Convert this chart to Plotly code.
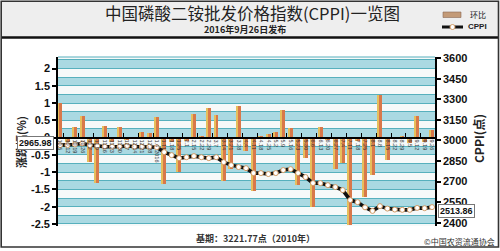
import plotly.graph_objects as go

# ---------------- data ----------------
dates = ["10.5", "10.12", "10.19", "10.26", "11.2", "11.9", "11.16", "11.23", "11.30",
         "12.7", "12.14", "12.21", "12.28",
         "1.4  2016", "1.11", "1.18", "1.25", "2.1", "2.15", "2.22", "2.29", "3.7", "3.14",
         "3.21", "3.28", "4.4", "4.11", "4.18", "4.25", "5.2", "5.9", "5.16", "5.23",
         "5.30", "6.6", "6.13", "6.20", "6.27", "7.4", "7.11", "7.18", "7.25", "8.1",
         "8.8", "8.15", "8.22", "8.29", "9.5", "9.12", "9.19", "9.26"]

change_pct = [1.00, -0.12, 0.30, 0.62, -0.70, -1.30, 0.33, -0.13, 0.30, -0.07, -0.05, 0.17, 0.13,
              0.60, -1.35, -0.12, -1.00, -0.10, 0.68, 0.02, 0.87, 0.65, -1.27, -0.92, 0.92,
              -0.40, -1.55, 0.05, 0.10, 0.17, 0.80, 0.27, -1.37, -0.60, -2.02, 0.32, -0.08,
              -0.90, -0.74, -2.53, -0.10, -1.72, -1.08, 1.23, -0.65, -0.05, 0.04, -0.16,
              0.63, -0.12, 0.22]

cppi = [2965.98, 2966, 2971, 2978, 2966, 2961, 2954, 2954, 2954, 2961, 2954, 2954, 2954,
        2951, 2915, 2893, 2871, 2878, 2886, 2878, 2871, 2878, 2842, 2820, 2806, 2798,
        2762, 2762, 2755, 2762, 2784, 2791, 2762, 2733, 2689, 2689, 2674, 2660, 2638,
        2565, 2550, 2512, 2486, 2521, 2503, 2496, 2494, 2494, 2508, 2506, 2513.86]

left_ticks = [2, 1.5, 1, 0.5, 0, -0.5, -1, -1.5, -2, -2.5]
left_ticktext = ["2", "1.5", "1", "0.5", "0", "-0.5", "-1", "-1.5", "-2", "-2.5"]
right_ticks = [3600, 3450, 3300, 3150, 3000, 2850, 2700, 2550, 2400]

title = "中国磷酸二铵批发价格指数(CPPI)一览图"
subtitle = "2016年9月26日发布"
base_note = "基期：3221.77点（2010年）"
source = "©中国农资流通协会"

# ---------------- layout helpers ----------------
W, H = 500, 251
L, R, T, B = 58, 435, 57, 226
YMIN, YMAX = -2.56, 2.335
Y2MIN, Y2MAX = 2376, 3609


def px(x):
    return (x - L) / (R - L)


def py(y):
    return (B - y) / (B - T)


idx = list(range(len(dates)))
CJK = "Noto Sans CJK SC"
LAT = "Liberation Sans"
TEAL = "#57b0bd"
BAND = "#aad9e2"

fig = go.Figure()

# bars: orange body with golden left edge
fig.add_trace(go.Bar(x=idx, y=change_pct, width=0.6, offset=-0.3,
                     marker=dict(color="#d8784a", line=dict(width=0)),
                     name="环比", showlegend=False))
fig.add_trace(go.Bar(x=idx, y=change_pct, width=0.2, offset=-0.3,
                     marker=dict(color="#e6bf5c", line=dict(width=0)),
                     showlegend=False, hoverinfo="skip"))

# CPPI line
fig.add_trace(go.Scatter(x=idx, y=cppi, yaxis="y2", mode="lines+markers",
                         line=dict(color="#111111", width=3.6),
                         marker=dict(size=5, color="#ffffff",
                                     line=dict(color="#d19a63", width=1)),
                         name="CPPI", showlegend=False))

shapes = []
# background bands (every 0.5 a blue band of 0.25)
k = -6
while k * 0.5 < YMAX:
    lo = k * 0.5
    hi = min(lo + 0.25, YMAX)
    lo = max(lo, YMIN)
    if hi > lo:
        shapes.append(dict(type="rect", xref="paper", yref="y", x0=0, x1=1, y0=lo, y1=hi,
                           fillcolor=BAND, line=dict(width=0), layer="below"))
    k += 1

# header
shapes.append(dict(type="rect", xref="paper", yref="paper", x0=px(1), x1=px(498.5),
                   y0=py(37), y1=py(1), fillcolor="#eeeeee", line=dict(width=0), layer="below"))
shapes.append(dict(type="line", xref="paper", yref="paper", x0=px(1), x1=px(498.5),
                   y0=py(37.5), y1=py(37.5), line=dict(color="#111111", width=2.5)))
# outer border
shapes.append(dict(type="rect", xref="paper", yref="paper", x0=px(1.2), x1=px(498.5),
                   y0=py(247), y1=py(1.2), line=dict(color="#333333", width=1.6)))
# top edge of plot
shapes.append(dict(type="line", xref="paper", yref="paper", x0=0, x1=1, y0=1, y1=1,
                   line=dict(color=TEAL, width=1.2)))
# legend swatches
shapes.append(dict(type="rect", xref="paper", yref="paper", x0=px(443), x1=px(461),
                   y0=py(17.5), y1=py(12), fillcolor="#c39a77", line=dict(color="#8a6a55", width=0.6)))
shapes.append(dict(type="line", xref="paper", yref="paper", x0=px(442), x1=px(463),
                   y0=py(27), y1=py(27), line=dict(color="#111111", width=3)))
shapes.append(dict(type="circle", xref="paper", yref="paper", x0=px(450), x1=px(455),
                   y0=py(29.5), y1=py(24.5), fillcolor="#ffffff", line=dict(color="#d19a63", width=1)))

annotations = [
    dict(text=title, x=px(252), y=py(13.5), xref="paper", yref="paper", showarrow=False,
         xanchor="center", yanchor="middle", font=dict(family=CJK, size=16.5, color="#222222")),
    dict(text="<b>" + subtitle + "</b>", x=px(245), y=py(29.5), xref="paper", yref="paper",
         showarrow=False, xanchor="center", yanchor="middle",
         font=dict(family=CJK, size=9, color="#222222")),
    dict(text="环比", x=px(468), y=py(14.5), xref="paper", yref="paper", showarrow=False,
         xanchor="left", yanchor="middle", font=dict(family=CJK, size=8, color="#222222")),
    dict(text="<b>CPPI</b>", x=px(466), y=py(27), xref="paper", yref="paper", showarrow=False,
         xanchor="left", yanchor="middle", font=dict(family=LAT, size=8, color="#222222")),
    dict(text="<b>涨跌幅(%)</b>", x=px(21), y=py(142), xref="paper", yref="paper", showarrow=False,
         textangle=-90, xanchor="center", yanchor="middle",
         font=dict(family=CJK, size=11, color="#222222")),
    dict(text="<b>CPPI(点)</b>", x=px(478), y=py(139), xref="paper", yref="paper", showarrow=False,
         textangle=-90, xanchor="center", yanchor="middle",
         font=dict(family=CJK, size=12, color="#222222")),
    dict(text="<b>%.2f</b>" % cppi[0], x=px(53.5), y=cppi[0], xref="paper", yref="y2",
         showarrow=False, xanchor="right", yanchor="middle", yshift=2,
         bgcolor="#ffffff", bordercolor="#777777", borderwidth=1, borderpad=1,
         font=dict(family=LAT, size=9, color="#111111")),
    dict(text="<b>%.2f</b>" % cppi[-1], x=px(438.5), y=cppi[-1], xref="paper", yref="y2",
         showarrow=False, xanchor="left", yanchor="middle", yshift=-4,
         bgcolor="#ffffff", bordercolor="#777777", borderwidth=1, borderpad=1,
         font=dict(family=LAT, size=9, color="#111111")),
    dict(text="<b>" + base_note + "</b>", x=px(255), y=py(238.5), xref="paper", yref="paper",
         showarrow=False, xanchor="center", yanchor="middle",
         font=dict(family=CJK, size=9, color="#333333")),
    dict(text=source, x=px(497), y=py(241), xref="paper", yref="paper",
         showarrow=False, xanchor="right", yanchor="middle",
         font=dict(family=CJK, size=8, color="#333333")),
]

zero_pos = -YMIN / (YMAX - YMIN)

fig.update_layout(
    width=W, height=H,
    margin=dict(l=L, r=W - R, t=T, b=H - B, pad=0),
    paper_bgcolor="#ffffff",
    plot_bgcolor="#f6f9f9",
    barmode="overlay",
    bargap=0,
    showlegend=False,
    shapes=shapes,
    annotations=annotations,
    xaxis=dict(range=[-0.27, 50.4], anchor="free", position=zero_pos,
               tickmode="array", tickvals=idx, ticktext=dates, tickangle=90,
               ticks="", showgrid=False, zeroline=False,
               showline=True, linecolor="#000000", linewidth=1.6,
               tickfont=dict(family=LAT, size=5.5, color="#333333"),
               minor=dict(tickmode="array", tickvals=[i + 1.5 for i in range(-1, 50, 2)],
                          ticks="inside", ticklen=4, tickwidth=1.4, tickcolor="#000000",
                          showgrid=False)),
    yaxis=dict(range=[YMIN, YMAX], tickmode="array", tickvals=left_ticks, ticktext=left_ticktext,
               ticks="outside", ticklen=4, tickwidth=1.5, tickcolor="#000000",
               showline=True, linecolor="#000000", linewidth=1.6,
               showgrid=True, gridcolor=TEAL, gridwidth=1, zeroline=False,
               tickfont=dict(family=LAT, size=11, color="#111111", weight="bold"),
               minor=dict(tickmode="array", tickvals=[i * 0.25 for i in range(-10, 10)],
                          showgrid=True, gridcolor=TEAL, gridwidth=1, ticks="")),
    yaxis2=dict(range=[Y2MIN, Y2MAX], overlaying="y", side="right", anchor="x",
                tickmode="array", tickvals=right_ticks,
                ticks="outside", ticklen=4, tickwidth=1.5, tickcolor="#000000",
                showline=True, linecolor="#000000", linewidth=1.6,
                showgrid=False, zeroline=False,
                tickfont=dict(family=LAT, size=11, color="#111111", weight="bold")),
)

fig.write_html("out.html", config={"displayModeBar": False},
               post_script="document.body.style.margin='0';document.body.style.overflow='hidden';")
